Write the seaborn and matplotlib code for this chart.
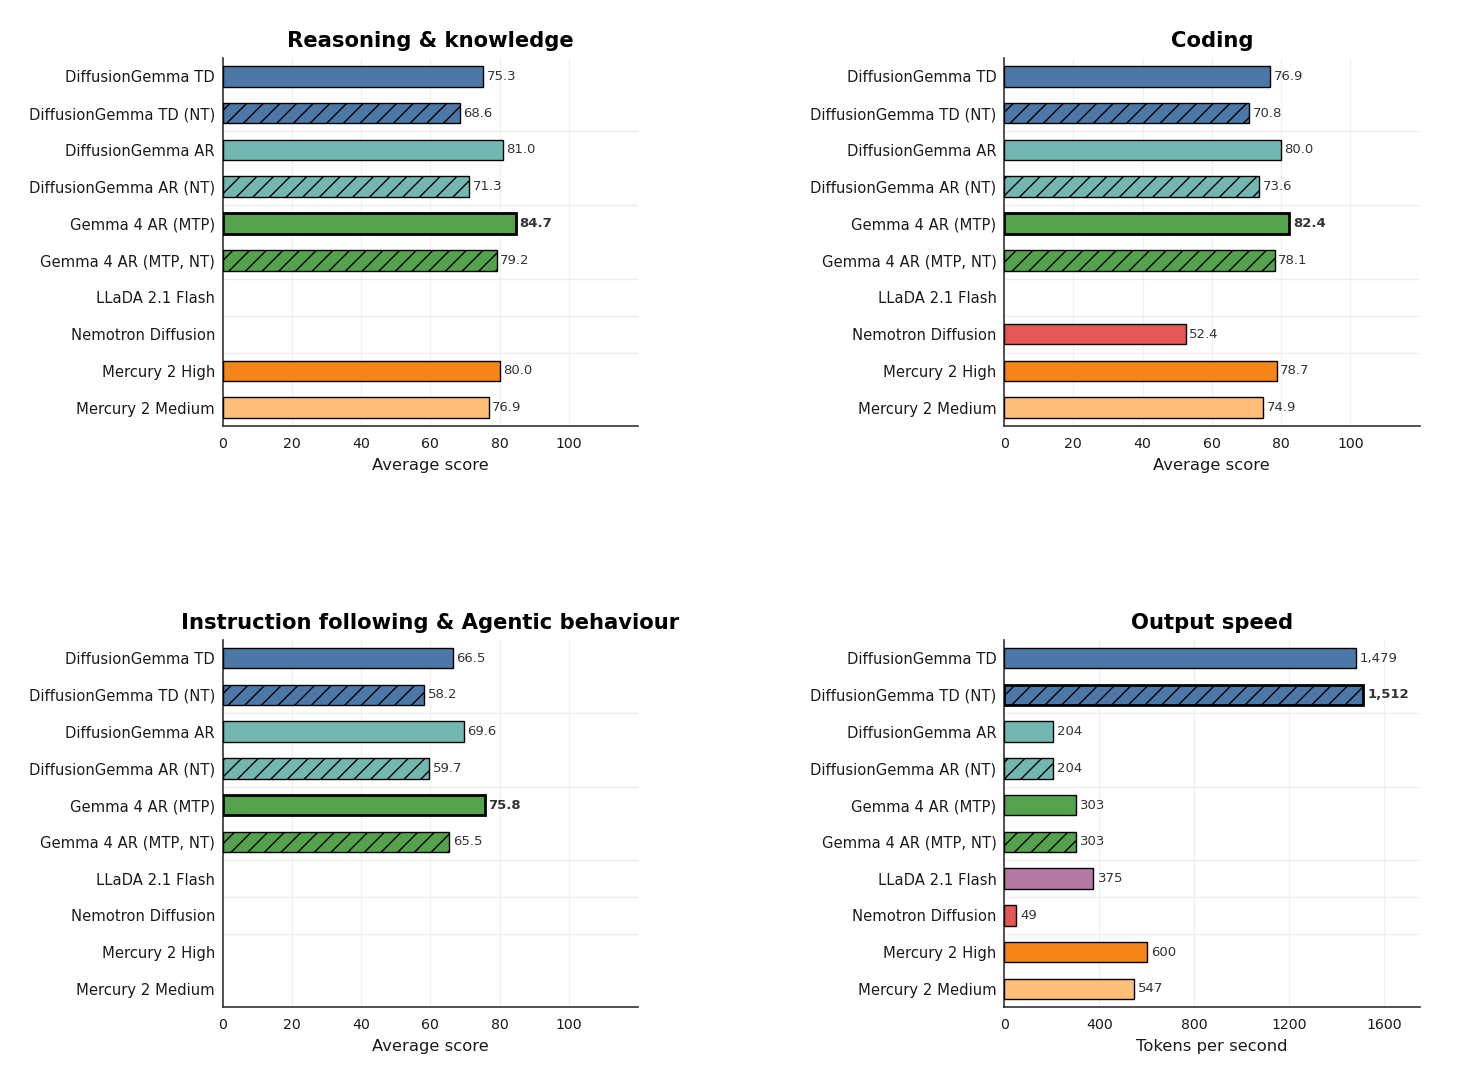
import numpy as np
import pandas as pd
import matplotlib
matplotlib.use("Agg")
import matplotlib.pyplot as plt
import seaborn as sns

# --- data -------------------------------------------------------------
models = [
    "DiffusionGemma TD", "DiffusionGemma TD (NT)",
    "DiffusionGemma AR", "DiffusionGemma AR (NT)",
    "Gemma 4 AR (MTP)", "Gemma 4 AR (MTP, NT)",
    "LLaDA 2.1 Flash", "Nemotron Diffusion",
    "Mercury 2 High", "Mercury 2 Medium",
]
colors = [
    "#4C78A8", "#4C78A8", "#72B7B2", "#72B7B2", "#54A24B", "#54A24B",
    "#B279A2", "#E45756", "#F58518", "#FFBF79",
]
hatched = [False, True, False, True, False, True, False, False, False, False]

reasoning = [75.3, 68.6, 81.0, 71.3, 84.7, 79.2, np.nan, np.nan, 80.0, 76.9]
coding = [76.9, 70.8, 80.0, 73.6, 82.4, 78.1, np.nan, 52.4, 78.7, 74.9]
instruction = [66.5, 58.2, 69.6, 59.7, 75.8, 65.5, np.nan, np.nan, np.nan, np.nan]
speed = [1479, 1512, 204, 204, 303, 303, 375, 49, 600, 547]

panels = [
    ("Reasoning & knowledge", reasoning, "Average score"),
    ("Coding", coding, "Average score"),
    ("Instruction following & Agentic behaviour", instruction, "Average score"),
    ("Output speed", speed, "Tokens per second"),
]
separators = [1.5, 3.5, 5.5, 6.5, 7.5]

sns.set_style("white")
plt.rcParams["font.family"] = ["DejaVu Sans"]
plt.rcParams["hatch.linewidth"] = 1.0
plt.rcParams["text.color"] = "#1a1a1a"
plt.rcParams["xtick.color"] = "#1a1a1a"
plt.rcParams["ytick.color"] = "#1a1a1a"
plt.rcParams["axes.labelcolor"] = "#1a1a1a"

fig = plt.figure(figsize=(14.84, 10.9), dpi=100)
positions = [
    [0.150, 0.609, 0.280, 0.338],
    [0.6766, 0.609, 0.280, 0.338],
    [0.150, 0.076, 0.280, 0.337],
    [0.6766, 0.076, 0.280, 0.337],
]
palette = dict(zip(models, colors))

for pos, (title, values, xlabel) in zip(positions, panels):
    ax = fig.add_axes(pos)
    df = pd.DataFrame({"model": models, "value": values}).dropna()
    sns.barplot(data=df, x="value", y="model", hue="model", order=models,
                hue_order=models, palette=palette, dodge=False, legend=False,
                width=0.56, saturation=1, ax=ax, zorder=3)

    is_speed = xlabel == "Tokens per second"
    vmax = np.nanmax(values)
    for p in ax.patches:
        w = p.get_width()
        if not np.isfinite(w) or w == 0:
            continue
        idx = int(round(p.get_y() + p.get_height() / 2))
        best = np.isclose(w, vmax)
        p.set_edgecolor("black")
        p.set_linewidth(2.0 if best else 1.0)
        if hatched[idx]:
            p.set_hatch("//")
        label = f"{w:,.0f}" if is_speed else f"{w:.1f}"
        ax.text(w + (vmax * 0.012 if is_speed else 1.0), idx, label,
                va="center", ha="left", fontsize=9.5, color="#333333",
                fontweight="bold" if best else "normal", zorder=4)

    for s in separators:
        ax.axhline(s, color="#eeeeee", lw=1, zorder=1)

    if is_speed:
        ax.set_xlim(0, 1748)
        ax.set_xticks([0, 400, 800, 1200, 1600])
    else:
        ax.set_xlim(0, 120)
        ax.set_xticks([0, 20, 40, 60, 80, 100])
    ax.set_ylim(9.5, -0.5)
    ax.grid(axis="x", color="#f0f0f0", lw=1, zorder=0)
    ax.set_axisbelow(True)

    ax.set_title(title, fontsize=15.2, fontweight="bold", pad=8, color="black")
    ax.set_xlabel(xlabel, fontsize=11.8, labelpad=5)
    ax.set_ylabel("")
    ax.tick_params(axis="y", length=0, labelsize=10.6, pad=5.5)
    ax.tick_params(axis="x", length=4, width=1, labelsize=10.2, color="#333333")
    for side in ["top", "right"]:
        ax.spines[side].set_visible(False)
    for side in ["left", "bottom"]:
        ax.spines[side].set_color("#333333")
        ax.spines[side].set_linewidth(1.2)

fig.savefig("out.png", dpi=100, facecolor="white")
